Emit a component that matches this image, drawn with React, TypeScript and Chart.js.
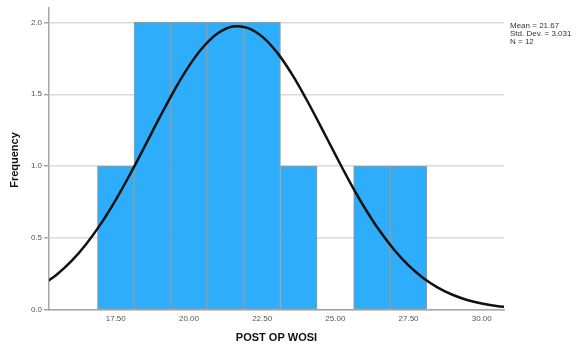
import React, { useEffect, useRef } from "react";
import { Chart, registerables } from "chart.js";

Chart.register(...registerables);

// Histogram bins (centers) and frequencies
const BIN_CENTERS = [17.5, 18.75, 20.0, 21.25, 22.5, 23.75, 25.0, 26.25, 27.5];
const FREQUENCIES = [1, 2, 2, 2, 2, 1, 0, 1, 1];

// Fitted normal curve
const CURVE_X = [15.0, 15.5, 16.0, 16.5, 17.0, 17.5, 18.0, 18.5, 19.0, 19.5, 20.0, 20.5, 21.0, 21.5, 22.0, 22.5, 23.0, 23.5, 24.0, 24.5, 25.0, 25.5, 26.0, 26.5, 27.0, 27.5, 28.0, 28.5, 29.0, 29.5, 30.0, 30.5, 31.0];
const CURVE_Y = [0.175, 0.249, 0.343, 0.461, 0.602, 0.766, 0.948, 1.142, 1.339, 1.528, 1.696, 1.832, 1.926, 1.971, 1.962, 1.901, 1.793, 1.645, 1.469, 1.277, 1.08, 0.888, 0.711, 0.554, 0.421, 0.31, 0.223, 0.156, 0.106, 0.07, 0.045, 0.028, 0.017];

const X_TICKS = [17.5, 20.0, 22.5, 25.0, 27.5, 30.0];
const Y_TICKS = [0, 0.5, 1.0, 1.5, 2.0];

const STATS = ["Mean = 21.67", "Std. Dev. = 3.031", "N = 12"];
const X_TITLE = "POST OP WOSI";
const Y_TITLE = "Frequency";

const FONT = "'Liberation Sans', Arial, sans-serif";

const textPlugin = {
  id: "spssText",
  afterDraw(chart: any) {
    const ctx = chart.ctx;
    const area = chart.chartArea;
    ctx.save();
    ctx.fillStyle = "#333";
    ctx.font = `8px ${FONT}`;
    ctx.textAlign = "left";
    ctx.textBaseline = "middle";
    STATS.forEach((s, i) => ctx.fillText(s, area.right + 6, 26 + i * 8));
    ctx.fillStyle = "#111";
    ctx.font = `bold 11px ${FONT}`;
    ctx.textAlign = "center";
    ctx.fillText(X_TITLE, (area.left + area.right) / 2, 338);
    ctx.translate(15, 160);
    ctx.rotate(-Math.PI / 2);
    ctx.fillText(Y_TITLE, 0, 0);
    ctx.restore();
  },
};

export default function App() {
  const ref = useRef<HTMLCanvasElement | null>(null);
  useEffect(() => {
    if (!ref.current) return;
    const chart = new Chart(ref.current, {
      type: "bar",
      data: {
        datasets: [
          {
            type: "line",
            data: CURVE_X.map((x, i) => ({ x, y: CURVE_Y[i] })),
            borderColor: "#111",
            borderWidth: 2.5,
            pointRadius: 0,
            tension: 0.4,
            fill: false,
            order: 0,
          } as any,
          {
            type: "bar",
            data: BIN_CENTERS.map((x, i) => ({ x, y: FREQUENCIES[i] })),
            backgroundColor: "#2EADFB",
            borderColor: "#9a9a9a",
            borderWidth: (c: any) => (c.raw && c.raw.y > 0 ? 1 : 0),
            borderSkipped: false,
            barPercentage: 1,
            categoryPercentage: 1,
            order: 1,
          } as any,
        ],
      },
      options: {
        animation: false,
        responsive: false,
        events: [],
        layout: { padding: { top: 8, right: 72, left: 0, bottom: 0 } },
        plugins: { legend: { display: false }, tooltip: { enabled: false } },
        scales: {
          x: {
            type: "linear",
            offset: false,
            min: 15.22,
            max: 30.76,
            afterBuildTicks: (s: any) => {
              s.ticks = X_TICKS.map((v) => ({ value: v }));
            },
            afterFit: (s: any) => {
              s.height = 35;
            },
            grid: { display: false, drawTicks: false, offset: false },
            border: { display: true, color: "#a6a6a6", width: 1.5 },
            ticks: {
              font: { size: 8, family: FONT },
              color: "#555",
              padding: 4,
              maxRotation: 0,
              autoSkip: false,
              callback: (v: any) => Number(v).toFixed(2),
            },
          },
          y: {
            type: "linear",
            min: 0,
            max: 2.1,
            afterBuildTicks: (s: any) => {
              s.ticks = Y_TICKS.map((v) => ({ value: v }));
            },
            afterFit: (s: any) => {
              s.width = 49;
            },
            grid: {
              color: "#dadada",
              lineWidth: 1.5,
              drawTicks: true,
              tickLength: 5,
              tickColor: "#a6a6a6",
            },
            border: { display: true, color: "#a6a6a6", width: 1.5 },
            ticks: {
              font: { size: 8, family: FONT },
              color: "#555",
              padding: 2,
              callback: (v: any) => Number(v).toFixed(1),
            },
          },
        },
      },
      plugins: [textPlugin],
    } as any);
    return () => chart.destroy();
  }, []);
  return (
    <div style={{ position: "absolute", left: 0, top: 0, width: 576, height: 345, background: "#fff" }}>
      <canvas ref={ref} width={576} height={345} />
    </div>
  );
}
